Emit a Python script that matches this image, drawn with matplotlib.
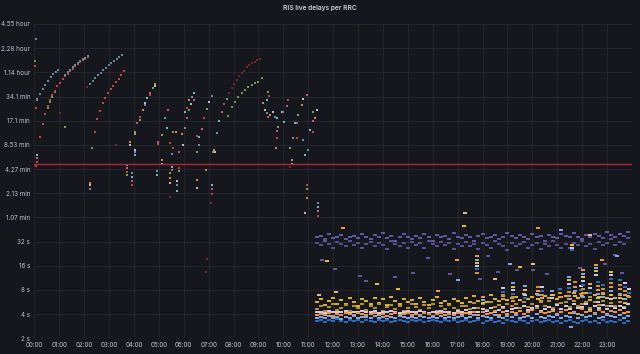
"""RIS live delays per RRC, dark dashboard style scatter."""

import matplotlib.pyplot as plt
import numpy as np

# ---- morning data: (hour of day, delay in minutes) ----
am_blue = [(0.06, 177), (0.10, 31),
           (0.12, 31.6), (0.23, 36.6), (0.34, 42.0), (0.44, 47.6), (0.55, 53.5),
           (0.66, 59.4), (0.76, 64.6), (0.87, 69.2), (0.96, 72.7),
           (1.25, 64), (1.34, 69), (1.45, 74), (1.54, 79), (1.65, 84),
           (1.74, 89), (1.85, 94), (1.94, 99), (2.05, 104), (2.14, 109),
           (2.24, 48.6), (2.35, 52.8), (2.45, 57.8), (2.56, 62.8), (2.67, 67.8),
           (2.77, 73.2), (2.88, 78.4), (2.99, 83.5), (3.09, 88.8), (3.20, 93.9),
           (3.31, 99.5), (3.41, 105), (3.52, 111.7)]

am_red = [(0.04, 81), (0.07, 24.6), (0.07, 4.7),
          (0.24, 10.6), (0.34, 15.6), (0.43, 20.7), (0.54, 26), (0.63, 31),
          (0.72, 35.8), (0.83, 40.3), (0.92, 46.3), (1.03, 50.7), (1.14, 56.2),
          (1.25, 61), (1.34, 66), (1.45, 71), (1.54, 75.8), (1.65, 81),
          (1.74, 86), (1.85, 91), (1.94, 96), (2.05, 101), (2.14, 106),
          (2.44, 12.5), (2.53, 17.9), (2.64, 22.8), (2.75, 28.1), (2.85, 33),
          (2.96, 37.6), (3.07, 42), (3.17, 46.7), (3.28, 51.7), (3.39, 57),
          (3.49, 62.8), (3.60, 71)]

am_green = [(0.04, 94.7), (2.30, 7.7), (0.54, 24.5), (0.63, 29.5), (0.72, 34),
            (0.83, 38.5), (7.79, 19.6), (7.93, 25.6), (8.06, 29.5), (8.19, 34.1),
            (8.33, 38), (8.46, 41), (8.60, 44.4), (8.73, 47.6), (8.86, 50),
            (9.00, 52.5), (9.13, 57.8)]

am_dark = [(7.83, 37.6), (7.93, 43.2), (8.02, 49), (8.13, 55), (8.23, 61),
           (8.33, 66.6), (8.42, 71.5), (8.53, 79), (8.63, 84.7), (8.73, 89),
           (8.86, 93), (8.96, 97), (9.06, 101), (2.13, 44.4), (6.92, 0.32),
           (6.90, 0.22), (10.27, 4.5), (7.09, 1.6), (5.43, 1.9), (1.05, 21),
           (3.3, 8.5)]

am_mix = [(0.09, 6.4), (0.09, 5.9), (0.09, 5.2), (1.23, 14.4),
          (2.24, 2.9), (2.24, 2.7), (2.24, 2.4),
          (3.71, 4.8), (3.71, 4.4), (3.71, 3.9), (3.71, 3.6), (3.84, 9.3), (3.84, 8.6),
          (3.92, 3.8), (3.92, 3.4), (3.92, 3.0), (3.92, 2.7),
          (4.04, 12.5), (4.04, 11.6), (4.04, 7.4), (4.04, 6.9), (4.04, 6.3),
          (4.14, 16.1), (4.24, 18.8), (4.24, 17.5), (4.35, 23.3), (4.45, 28.1),
          (4.45, 26.5), (4.54, 33), (4.65, 37.6), (4.65, 35.5), (4.75, 43.2),
          (4.85, 48.9), (4.85, 46),
          (4.92, 4.0), (4.92, 3.6), (4.98, 9.3), (4.98, 8.7),
          (5.12, 11.3), (5.12, 5.5), (5.12, 5.0), (5.25, 18.3), (5.32, 13.8), (5.36, 23.3),
          (5.45, 9.0), (5.45, 3.8), (5.45, 3.3), (5.45, 2.9), (5.52, 6.6), (5.52, 4.5),
          (5.52, 4.2), (5.56, 7.7), (5.58, 12.2), (5.69, 12.5),
          (5.72, 3.0), (5.72, 2.7), (5.72, 2.3), (5.82, 7.0), (5.82, 4.4), (5.82, 4.0),
          (5.92, 11.6), (5.96, 8.5),
          (6.05, 13.8), (6.05, 22.2), (6.12, 18.3), (6.12, 24.5), (6.22, 23.3), (6.22, 31),
          (6.28, 27.5), (6.32, 34.1), (6.41, 37.6), (6.43, 31),
          (6.52, 11.0), (6.52, 7.0), (6.52, 3.1), (6.52, 2.5), (6.61, 8.5), (6.63, 10.8),
          (6.72, 13.3), (6.82, 18.3), (6.92, 24.0), (6.90, 4.1), (7.03, 29.2), (7.12, 34.6),
          (7.12, 2.7), (7.12, 2.4), (7.12, 2.1), (7.19, 7.0), (7.23, 7.4),
          (7.26, 7.0), (7.33, 12.0), (7.43, 17.1), (7.53, 22.2), (7.62, 27.5), (7.73, 31.5),
          (9.20, 28), (9.26, 23.3), (9.33, 21.2), (9.33, 30.9), (9.40, 19.2), (9.41, 35),
          (9.40, 39), (9.47, 20.2), (9.60, 22.2), (9.67, 19.2), (9.74, 18.3), (9.74, 12.6),
          (9.76, 10.5), (9.80, 14.4), (9.71, 7.7),
          (9.94, 22.2), (10.0, 22.2), (10.03, 16.6), (10.14, 26), (10.2, 30.9),
          (10.27, 7.7), (10.34, 5.6), (10.34, 5.0),
          (10.4, 10.5), (10.47, 15.9), (10.54, 15.9), (10.54, 10.5), (10.6, 20.2),
          (10.74, 26.5), (10.8, 31.6), (10.80, 9.8), (10.87, 6.4), (10.94, 35.8),
          (10.94, 2.7), (10.94, 2.4), (10.93, 1.87), (10.87, 1.22), (11.0, 7.4),
          (11.07, 12.9), (11.2, 17.1), (11.2, 12.5), (11.18, 22), (11.27, 18.3),
          (11.34, 23.3), (11.38, 1.6), (11.38, 1.45), (11.38, 1.3), (11.38, 1.1)]

# ---- afternoon data: one value every 10 minutes from 11:20, delay in seconds ----
pm_start = 11 + 20 / 60

pm_blue = [3.3, 3.4, 3.2, 3.4, 3.3, 3.5, 3.3, 3.2, 3.4, 3.3, 3.4, 3.2,
           3.4, 3.3, 3.2, 3.4, 3.3, 3.4, 3.2, 3.3, 3.4, 3.3, 3.2, 3.4,
           3.3, 3.4, 3.2, 3.3, 3.4, 3.3, 3.2, 3.4, 3.3, 3.4, 3.2, 3.3,
           3.4, 3.2, 3.3, 3.4, 3.1, 3.3, 3.4, 3.2, 3.3, 3.1, 3.4, 3.3,
           3.2, 3.4, 3.3, 3.1, 3.3, 3.4, 3.2, 3.3, 3.4, 3.2, 3.3, 3.1,
           3.3, 3.4, 3.2, 3.1, 3.3, 3.4, 3.2, 3.3, 3.1, 3.4, 3.2, 3.3,
           3.2, 3.4, 3.1, 3.3]

pm_lightblue = [3.6, 3.7, 3.6, 3.8, 3.6, 3.7, 3.5, 3.7, 3.6, 3.8, 3.6, 3.7,
                3.7, 3.6, 3.8, 3.6, 3.7, 3.5, 3.7, 3.6, 3.8, 3.7, 3.6, 3.7,
                3.6, 3.8, 3.7, 3.6, 3.7, 3.6, 3.8, 3.6, 3.7, 3.6, 3.7, 3.8,
                3.6, 3.7, 3.9, 3.6, 3.8, 3.7, 3.6, 3.9, 3.7, 3.6, 3.8, 3.7,
                3.9, 3.6, 3.7, 3.8, 3.6, 4.0, 3.7, 3.6, 3.8, 3.7, 3.9, 3.6,
                3.8, 3.7, 4.1, 3.6, 3.9, 3.7, 3.8, 4.0, 3.6, 3.7, 3.9, 3.8,
                3.7, 3.9, 3.6, 3.8]

pm_orange = [3.9, 4.0, 3.9, 4.1, 3.8, 4.0, 3.9, 4.1, 4.0, 3.9, 4.1, 4.0,
             3.9, 4.0, 4.1, 3.9, 4.0, 3.8, 4.0, 4.1, 3.9, 4.0, 4.1, 3.9,
             4.0, 3.9, 4.1, 4.0, 3.8, 4.0, 4.1, 3.9, 4.0, 3.9, 4.1, 4.0,
             4.1, 4.0, 4.3, 3.9, 4.2, 4.0, 4.1, 4.4, 3.9, 4.2, 4.0, 4.3,
             4.1, 4.4, 4.0, 4.2, 4.5, 4.0, 4.3, 4.1, 4.2, 4.4, 4.0, 4.3,
             4.5, 4.1, 4.3, 4.0, 4.6, 4.2, 4.4, 4.1, 4.5, 4.2, 4.0, 4.4,
             4.2, 4.5, 4.1, 4.3]

pm_white = [4.2, 4.3, 4.1, 4.4, 4.2, 4.3, 4.2, 4.4, 4.1, 4.3, 4.2, 4.4,
            4.3, 4.2, 4.4, 4.1, 4.3, 4.2, 4.4, 4.3, 4.1, 4.2, 4.4, 4.3,
            4.2, 4.4, 4.3, 4.1, 4.2, 4.3, 4.4, 4.2, 4.3, 4.1, 4.4, 4.2,
            4.5, 4.3, 4.7, 4.2, 4.6, 4.4, 4.8, 4.3, 4.5, 4.9, 4.4, 4.6,
            4.8, 4.4, 5.0, 4.5, 4.7, 5.1, 4.4, 4.6, 4.9, 4.5, 5.2, 4.6,
            5.0, 4.6, 5.3, 4.7, 4.9, 5.4, 4.5, 5.1, 4.8, 5.2, 4.6, 5.0,
            4.7, 5.1, 4.8, 5.3]

pm_gold = [4.6, 5.1, 4.4, 4.9, 5.3, 4.5, 4.8, 5.2, 4.4, 5.0, 4.7, 5.3,
           4.5, 5.0, 4.8, 5.3, 4.4, 4.9, 5.2, 4.6, 5.1, 4.4, 4.8, 5.3,
           4.9, 4.5, 5.2, 4.7, 5.3, 4.4, 5.0, 4.6, 5.2, 4.8, 4.5, 5.1,
           5.0, 4.6, 5.5, 4.8, 5.3, 4.5, 5.6, 4.9, 5.2, 4.7, 5.4, 5.0,
           5.3, 4.8, 5.7, 4.9, 5.4, 4.7, 5.6, 5.0, 5.8, 4.8, 5.3, 5.5,
           5.6, 4.9, 5.9, 5.1, 5.4, 5.7, 4.8, 5.6, 5.2, 5.9, 5.0, 5.5,
           5.1, 5.7, 4.9, 5.4]

pm_yellow = [5.6, 6.2, 5.2, 5.9, 6.4, 5.4, 6.0, 5.3, 6.3, 5.7, 5.1, 6.1,
             5.9, 5.3, 6.4, 5.5, 6.1, 5.2, 6.5, 5.8, 5.4, 6.2, 5.6, 6.0,
             5.4, 6.3, 5.7, 5.2, 6.0, 6.5, 5.5, 5.9, 5.3, 6.2, 5.8, 5.5,
             6.3, 5.7, 6.8, 5.9, 6.6, 5.6, 7.0, 6.1, 5.8, 6.7, 6.0, 6.4,
             6.6, 6.0, 7.1, 6.2, 6.5, 7.2, 5.9, 6.8, 6.3, 7.0, 6.1, 6.6,
             6.8, 6.2, 7.3, 6.4, 6.7, 7.4, 6.0, 7.0, 6.5, 7.1, 6.3, 6.9,
             6.4, 7.0, 6.2, 6.7]

pm_purple_a = [36, 38, 33, 40, 35, 37, 39, 34, 36, 38, 35, 40,
               37, 34, 39, 36, 41, 35, 38, 33, 37, 40, 36, 34,
               38, 35, 40, 37, 33, 39, 36, 38, 34, 41, 37, 35,
               39, 36, 33, 38, 40, 35, 37, 39, 34, 36, 41, 38,
               35, 39, 37, 34, 40, 36, 38, 33, 39, 37, 35, 40,
               38, 36, 41, 37, 34, 39, 36, 40, 38, 35, 42, 39,
               37, 40, 38, 42]

pm_purple_b = [31, 29, 34, 30, 27, 32, 30, 28, 33, 29, 31, 27,
               30, 32, 28, 31, 29, 26, 33, 30, 28, 31, 27, 32,
               29, 31, 27, 33, 30, 28, 32, 29, 31, 26, 30, 28,
               32, 28, 30, 26, 31, 29, 27, 33, 30, 28, 25, 31,
               28, 30, 32, 27, 29, 31, 26, 30, 28, 33, 29, 27,
               30, 27, 31, 29, 33, 28, 30, 26, 32, 29, 31, 34,
               29, 32, 30, 35]

# scattered afternoon points: (hour, seconds)
pm_purple_low = [(12.08, 14.5), (13.08, 12), (13.3, 10.3), (11.55, 19), (14.5, 11.5),
                 (15.2, 13), (16.7, 12.5), (17.9, 11), (18.6, 13.5), (19.4, 14),
                 (20.04, 14.2), (20.6, 12.8), (21.9, 15), (22.9, 17), (23.6, 13),
                 (23.3, 22), (15.8, 20), (18.2, 21)]

pm_outliers = [(17.30, 73), (17.26, 50), (20.24, 47), (21.14, 45), (22.30, 39),
               (11.74, 18.4), (16.96, 18.8), (19.10, 17), (20.03, 17), (13.78, 9.4),
               (12.40, 47), (21.54, 2.8), (12.1, 7.6), (14.6, 8.2), (16.2, 7.8),
               (17.0, 10.5), (18.5, 11), (19.5, 15.5), (22.8, 19), (23.4, 21),
               (11.42, 6.9)]

# evening spikes: time and the delays stacked at that time
spike_hours = [17.77, 18.03, 18.84, 19.22, 19.71, 20.24, 20.40, 20.78, 21.11, 21.47,
               21.58, 21.72, 21.95, 22.05, 22.32, 22.56, 22.65, 22.84, 23.17, 23.52,
               23.72, 23.86]
spike_delays = [[21, 19, 17.5, 16, 14.5, 13], [6.6, 6.0, 5.5], [8.4, 7.6, 6.9, 6.2],
                [9.7, 8.8, 8.0, 7.2, 6.5, 5.9], [9.0, 8.0, 7.0, 6.3], [8.6, 7.7, 6.9, 6.2],
                [8.8, 7.8, 7.0, 6.3], [7.8, 7.0, 6.4], [8.3, 7.4, 6.6],
                [11.7, 10.5, 9.4, 8.5, 7.6, 6.8, 6.1], [29, 27, 25], [10.0, 8.8, 7.7, 6.8],
                [9.0, 8.0, 7.1], [14.2, 12.8, 11.5, 10.3, 9.2, 8.2, 7.3, 6.5],
                [9.5, 8.4, 7.4, 6.6], [16.4, 15.0, 13.6, 12.3], [10.0, 9.0, 8.0, 7.1, 6.3, 5.6],
                [9.2, 8.2, 7.3, 6.5], [13.5, 12.2, 11.0, 9.9, 8.8, 7.8, 7.0, 6.2],
                [10.5, 9.3, 8.2, 7.2, 6.4], [9.7, 8.7, 7.8, 7.0, 6.2, 5.5], [8.3, 7.4, 6.6]]

threshold = 300  # seconds

y_ticks = [2 * 2 ** k for k in range(14)]
y_labels = ["2 s", "4 s", "8 s", "16 s", "32 s", "1.07 min", "2.13 min", "4.27 min",
            "8.53 min", "17.1 min", "34.1 min", "1.14 hour", "2.28 hour", "4.55 hour"]
x_labels = [f"{h:02d}:00" for h in range(24)]

# ---- style ----
BG = "#16171c"
TEXT = "#c2c3ca"
GRID = "#25272d"
DASH = [(-1, -0.55), (1, -0.55), (1, 0.55), (-1, 0.55), (-1, -0.55)]
mix_colors = ["#6fb8c6", "#c75688", "#c8443a", "#78a458", "#d6874a", "#bdb8d0", "#6b8ea0"]
spike_colors = ["#f0953a", "#7fa7e8", "#e5bf2a", "#cfc6ee", "#2a6bbf", "#c99a1a"]
outlier_colors = ["#e8b48a", "#e5bf2a", "#f0953a", "#7fa7e8"]

fig = plt.figure(figsize=(6.4, 3.54), dpi=100, facecolor=BG)
ax = fig.add_axes([34.3 / 640, 1 - 338.3 / 354, (632 - 34.3) / 640, (338.3 - 24) / 354])
ax.set_facecolor(BG)


def pts(ax, data, color, scale=1.0, marker="s", size=2.1):
    t = [d[0] for d in data]
    v = [d[1] * scale for d in data]
    ax.plot(t, v, ls="none", marker=marker, ms=size, mew=0, color=color)


# morning (minutes -> seconds)
pts(ax, am_dark, "#6e2727", 60)
pts(ax, am_green, "#6f9a52", 60)
pts(ax, am_red, "#c2473d", 60)
pts(ax, am_blue, "#62889a", 60)
for i, p in enumerate(am_mix):
    pts(ax, [p], mix_colors[i % len(mix_colors)], 60)

# afternoon bands
for series, color, size in [(pm_purple_a, "#63559f", 2.6), (pm_purple_b, "#5a4c92", 2.6),
                            (pm_yellow, "#d9b226", 3.0), (pm_gold, "#b8901c", 3.0),
                            (pm_white, "#cfc6ee", 3.0), (pm_orange, "#f0953a", 3.0),
                            (pm_lightblue, "#7fa7e8", 3.0), (pm_blue, "#2a6bbf", 3.0)]:
    t = pm_start + np.arange(len(series)) / 6
    ax.plot(t, series, ls="none", marker=DASH, ms=size, mew=0, color=color)

pts(ax, pm_purple_low, "#63559f", marker=DASH, size=2.6)
for i, p in enumerate(pm_outliers):
    pts(ax, [p], outlier_colors[i % len(outlier_colors)], marker=DASH, size=2.8)
k = 0
for h, stack in zip(spike_hours, spike_delays):
    for v in stack:
        pts(ax, [(h, v)], spike_colors[k % len(spike_colors)], marker=DASH, size=3.0)
        k += 1

ax.axhline(threshold, color="#b3243a", lw=1.0, zorder=3)

ax.set_yscale("log", base=2)
ax.set_ylim(2, 16384)
ax.set_xlim(0, 24)
ax.set_yticks(y_ticks)
ax.set_yticklabels(y_labels)
ax.set_xticks(range(24))
ax.set_xticklabels(x_labels)
ax.minorticks_off()
ax.tick_params(length=0, pad=3, labelsize=4.5, colors=TEXT)
for lab in ax.get_xticklabels() + ax.get_yticklabels():
    lab.set_family("Inter")
ax.grid(color=GRID, lw=0.6)
ax.set_axisbelow(True)
for s in ax.spines.values():
    s.set_visible(False)

fig.text(0.5, 1 - 8 / 354, "RIS live delays per RRC", ha="center", va="center",
         fontsize=4.8, color="#d0d0da", fontweight="semibold", family="Inter")

fig.savefig("out.png", dpi=100, facecolor=BG)
